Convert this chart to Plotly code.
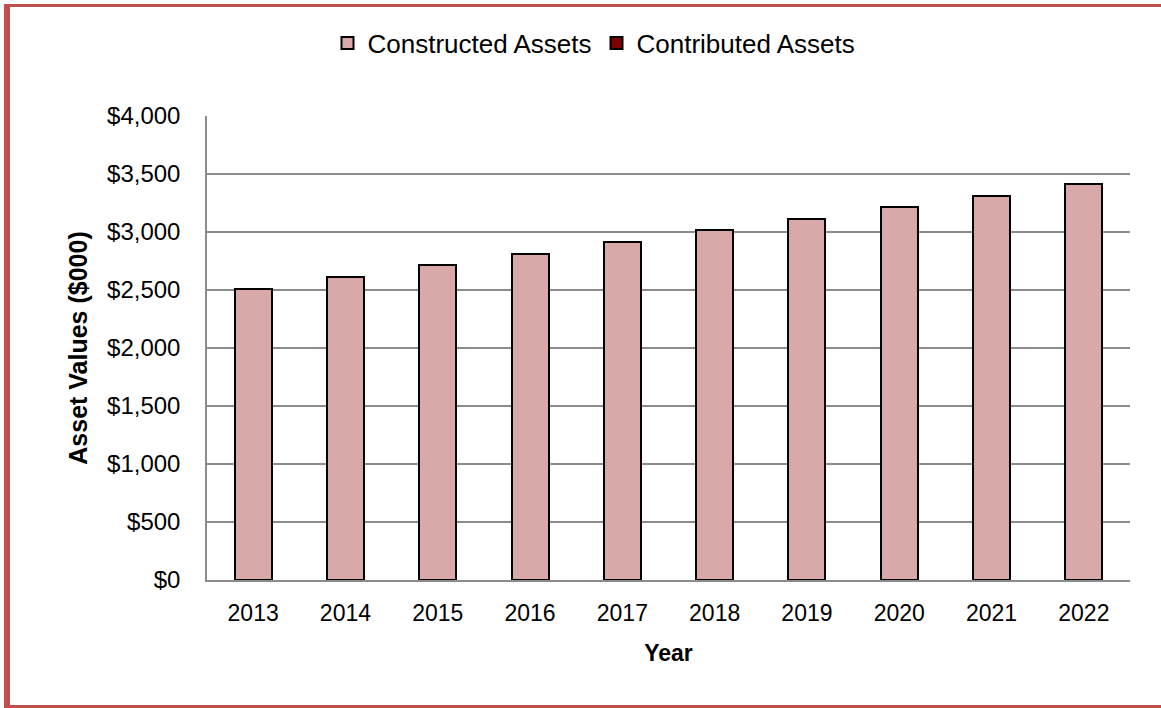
import plotly.graph_objects as go

years = ["2013", "2014", "2015", "2016", "2017", "2018", "2019", "2020", "2021", "2022"]
constructed = [2512, 2614, 2714, 2814, 2914, 3014, 3114, 3214, 3314, 3414]
contributed = [0, 0, 0, 0, 0, 0, 0, 0, 0, 0]
tick_vals = [0, 500, 1000, 1500, 2000, 2500, 3000, 3500, 4000]
tick_text = ["$0", "$500", "$1,000", "$1,500", "$2,000", "$2,500", "$3,000", "$3,500", "$4,000"]

W, H = 1161, 708
L, R, T, B = 207, 31, 116, 128
PW, PH = W - L - R, H - T - B
FONT = "Liberation Sans, Arial, sans-serif"
BORDER = "#C0504D"
GRID = "#8C8C8C"


def px_x(px):
    return (px - L) / PW


def px_y(py):
    return (H - B - py) / PH


fig = go.Figure()
fig.add_trace(go.Bar(
    x=years, y=constructed, name="Constructed Assets",
    marker={"color": "#D9A9AA", "line": {"color": "#000000", "width": 2}},
))
fig.add_trace(go.Bar(
    x=years, y=contributed, name="Contributed Assets",
    marker={"color": "#7F0000", "line": {"color": "#000000", "width": 2}},
))

# frame around the chart (left, top, bottom)
for x0, x1, y0, y1 in [(4, 10, 4, 708), (4, 1161, 4, 7), (4, 1161, 705, 708)]:
    fig.add_shape(type="rect", xref="paper", yref="paper",
                  x0=px_x(x0), x1=px_x(x1), y0=px_y(y1), y1=px_y(y0),
                  fillcolor=BORDER, line={"width": 0}, layer="above")

fig.update_layout(
    barmode="stack",
    bargap=0.6,
    width=W, height=H,
    margin={"l": L, "r": R, "t": T, "b": B, "pad": 0},
    paper_bgcolor="white", plot_bgcolor="white",
    font={"family": FONT, "size": 22, "color": "#000000"},
    legend={"orientation": "h", "x": px_x(594), "xanchor": "center",
            "y": px_y(43), "yanchor": "middle",
            "font": {"size": 26}, "itemwidth": 30, "traceorder": "normal"},
    xaxis={
        "showline": True, "linecolor": GRID, "linewidth": 1.5,
        "ticks": "", "tickfont": {"size": 23}, "ticklabelstandoff": 12,
        "title": {"text": "<b>Year</b>", "font": {"size": 23}, "standoff": 20},
    },
    yaxis={
        "range": [0, 4000], "tickvals": tick_vals, "ticktext": tick_text,
        "showgrid": True, "gridcolor": GRID, "gridwidth": 1.5,
        "showline": True, "linecolor": GRID, "linewidth": 1.5,
        "ticks": "", "tickfont": {"size": 24}, "ticklabelstandoff": 20,
        "zeroline": False,
        "title": {"text": "<b>Asset Values ($000)</b>", "font": {"size": 25}, "standoff": 12},
    },
)

fig.write_html("out.html", config={"displayModeBar": False},
               post_script="document.body.style.margin='0';")
